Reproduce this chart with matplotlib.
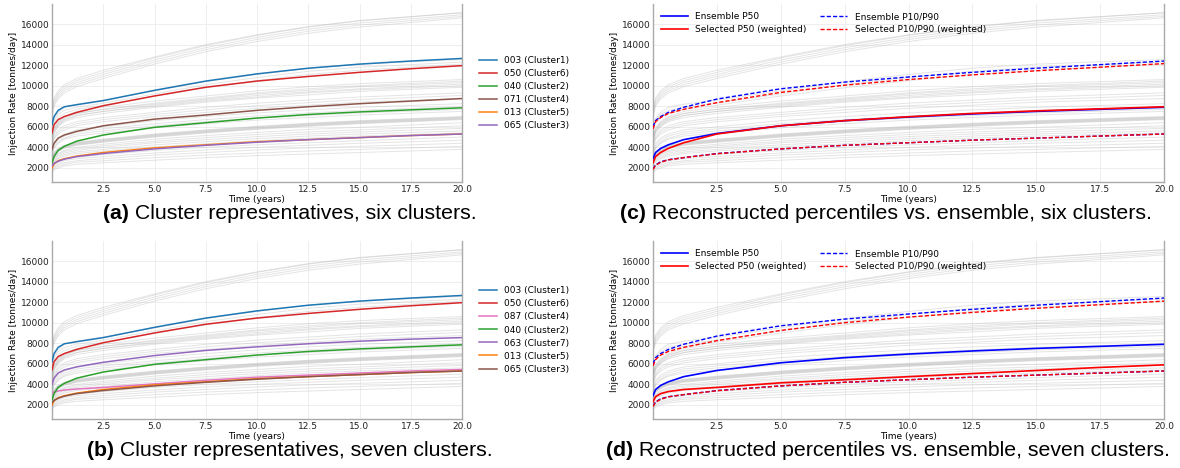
import matplotlib
matplotlib.use('Agg')
import matplotlib.pyplot as plt

# ---------------- data ----------------
T_ens = [0, 0.1, 0.3, 0.6, 1.2, 2.5, 5, 7.5, 10, 12.5, 15, 20]
ensemble = [
    [7600, 8600, 9300, 9900, 10500, 11300, 12700, 13900, 14900, 15700, 16300, 17100],
    [7400, 8400, 9100, 9700, 10300, 11100, 12500, 13700, 14700, 15500, 16100, 16900],
    [7200, 8200, 8900, 9500, 10100, 10900, 12300, 13500, 14500, 15300, 15900, 16750],
    [7800, 8800, 9500, 10100, 10700, 11500, 12800, 14000, 14950, 15750, 16350, 17100],
    [7000, 8000, 8700, 9300, 9900, 10700, 12100, 13300, 14300, 15100, 15700, 16600],
    [6000, 6800, 7400, 7900, 8200, 8600, 9500, 10400, 11100, 11700, 12100, 12550],
    [5800, 6600, 7200, 7600, 7900, 8300, 9200, 10100, 10800, 11400, 11800, 12300],
    [5600, 6400, 6900, 7300, 7700, 8100, 9000, 9800, 10500, 11100, 11500, 12100],
    [5000, 5900, 6500, 7000, 7500, 7900, 8500, 9000, 9500, 9900, 10200, 10600],
    [4800, 5700, 6300, 6800, 7300, 7700, 8300, 8800, 9300, 9700, 10000, 10450],
    [4900, 5800, 6400, 6900, 7300, 7700, 8200, 8700, 9200, 9550, 9900, 10300],
    [4600, 5500, 6100, 6600, 7100, 7500, 8100, 8600, 9050, 9400, 9700, 10150],
    [4700, 5600, 6200, 6700, 7100, 7500, 8000, 8500, 8900, 9300, 9600, 10000],
    [4500, 5400, 6000, 6500, 6900, 7300, 7900, 8400, 8800, 9100, 9450, 9850],
    [4300, 5100, 5700, 6100, 6500, 6900, 7400, 7900, 8300, 8600, 8900, 9300],
    [4100, 4900, 5500, 5900, 6300, 6700, 7200, 7650, 8050, 8350, 8650, 9050],
    [4000, 4800, 5300, 5700, 6100, 6500, 7000, 7400, 7800, 8100, 8400, 8750],
    [3600, 4400, 4900, 5300, 5700, 6000, 6600, 7000, 7350, 7650, 7900, 8250],
    [3400, 4200, 4700, 5100, 5500, 5800, 6300, 6700, 7050, 7350, 7600, 7950],
    [3300, 4000, 4500, 4900, 5300, 5600, 6100, 6500, 6850, 7100, 7350, 7700],
    [3200, 3900, 4400, 4800, 5100, 5400, 5900, 6300, 6650, 6900, 7150, 7500],
    [2900, 3500, 3900, 4200, 4500, 4800, 5300, 5700, 6050, 6350, 6600, 7000],
    [2800, 3400, 3800, 4100, 4400, 4700, 5200, 5600, 5950, 6250, 6500, 6900],
    [2900, 3500, 3850, 4150, 4450, 4750, 5250, 5650, 6000, 6300, 6550, 6950],
    [2700, 3300, 3700, 4000, 4300, 4600, 5100, 5500, 5850, 6150, 6400, 6800],
    [2750, 3350, 3750, 4050, 4350, 4650, 5150, 5550, 5900, 6200, 6450, 6850],
    [2600, 3200, 3600, 3900, 4200, 4500, 5000, 5400, 5750, 6050, 6300, 6700],
    [2650, 3250, 3650, 3950, 4250, 4550, 5050, 5450, 5800, 6100, 6350, 6750],
    [2500, 3000, 3400, 3700, 4000, 4300, 4800, 5150, 5450, 5750, 5950, 6400],
    [2400, 2900, 3300, 3600, 3850, 4150, 4600, 4950, 5250, 5500, 5700, 6100],
    [2300, 2800, 3150, 3450, 3700, 4000, 4450, 4750, 5050, 5300, 5500, 5850],
    [2200, 2700, 3000, 3300, 3550, 3800, 4250, 4550, 4850, 5100, 5300, 5600],
    [2100, 2600, 2900, 3150, 3400, 3650, 4050, 4350, 4650, 4900, 5100, 5400],
    [1900, 2300, 2600, 2850, 3050, 3300, 3700, 4000, 4250, 4450, 4650, 5000],
    [1800, 2200, 2450, 2700, 2900, 3100, 3450, 3750, 4000, 4200, 4400, 4700],
    [1700, 2050, 2300, 2500, 2700, 2900, 3250, 3500, 3750, 3950, 4100, 4400],
    [1600, 1950, 2150, 2350, 2550, 2700, 3000, 3250, 3450, 3650, 3800, 4100],
    [1500, 1800, 2000, 2200, 2350, 2500, 2750, 3000, 3200, 3350, 3500, 3800],
]

T_rep = [0, 0.1, 0.3, 0.6, 1.2, 2.5, 5, 7.5, 10, 12.5, 15, 17.5, 20]
rep_003 = [6200, 7000, 7600, 7950, 8150, 8550, 9550, 10450, 11150, 11700, 12100, 12400, 12650]
rep_050 = [5400, 6200, 6700, 7000, 7400, 8050, 9000, 9850, 10450, 10900, 11300, 11650, 11950]
rep_071 = [3800, 4400, 4900, 5200, 5550, 6100, 6750, 7150, 7600, 7950, 8250, 8500, 8750]
rep_040 = [2500, 3100, 3700, 4100, 4600, 5200, 5950, 6400, 6850, 7200, 7450, 7650, 7850]
rep_013 = [2000, 2400, 2700, 2900, 3150, 3500, 3950, 4250, 4550, 4750, 4950, 5150, 5300]
rep_065 = [2200, 2450, 2650, 2850, 3100, 3400, 3850, 4200, 4500, 4750, 4950, 5150, 5300]
rep_087 = [3200, 3250, 3350, 3450, 3550, 3700, 4050, 4400, 4700, 4900, 5100, 5300, 5450]
rep_063 = [4000, 4600, 5100, 5400, 5700, 6150, 6800, 7300, 7650, 7950, 8200, 8400, 8550]

labels_a = ["003 (Cluster1)", "050 (Cluster6)", "040 (Cluster2)", "071 (Cluster4)",
            "013 (Cluster5)", "065 (Cluster3)"]
labels_b = ["003 (Cluster1)", "050 (Cluster6)", "087 (Cluster4)", "040 (Cluster2)",
            "063 (Cluster7)", "013 (Cluster5)", "065 (Cluster3)"]

ens_p90 = [6000, 6600, 7000, 7400, 7900, 8700, 9700, 10350, 10850, 11300, 11700, 12050, 12400]
ens_p50 = [2900, 3500, 3900, 4250, 4750, 5350, 6100, 6600, 6950, 7250, 7500, 7700, 7900]
ens_p10 = [1900, 2300, 2600, 2800, 3000, 3400, 3850, 4200, 4450, 4700, 4900, 5100, 5300]
sel6_p90 = [5800, 6500, 6900, 7300, 7700, 8350, 9350, 10050, 10600, 11050, 11450, 11800, 12150]
sel6_p50 = [2500, 3100, 3500, 3900, 4450, 5300, 6100, 6600, 6980, 7300, 7550, 7750, 7950]
sel6_p10 = [1850, 2250, 2550, 2780, 3000, 3380, 3850, 4200, 4450, 4700, 4900, 5100, 5300]
sel7_p90 = [5800, 6400, 6850, 7200, 7600, 8250, 9250, 10000, 10550, 11000, 11400, 11750, 12100]
sel7_p50 = [2300, 2800, 3100, 3300, 3500, 3700, 4150, 4450, 4750, 5050, 5350, 5650, 5900]
sel7_p10 = [1850, 2250, 2550, 2780, 3000, 3380, 3850, 4200, 4450, 4700, 4900, 5100, 5300]

perc_labels = ["Ensemble P50", "Selected P50 (weighted)", "Ensemble P10/P90",
               "Selected P10/P90 (weighted)"]

captions = [
    ("(a)", " Cluster representatives, six clusters."),
    ("(b)", " Cluster representatives, seven clusters."),
    ("(c)", " Reconstructed percentiles vs. ensemble, six clusters."),
    ("(d)", " Reconstructed percentiles vs. ensemble, seven clusters."),
]

x_ticks = [2.5, 5.0, 7.5, 10.0, 12.5, 15.0, 17.5, 20.0]
y_ticks = [2000, 4000, 6000, 8000, 10000, 12000, 14000, 16000]

# ---------------- style ----------------
SMALL = 6.5
W, H = 1180, 468
fig = plt.figure(figsize=(W / 100, H / 100), dpi=100)

def px_axes(l, t, r, b):
    return fig.add_axes([l / W, 1 - b / H, (r - l) / W, (b - t) / H])

ax_a = px_axes(52, 4, 462, 182)
ax_b = px_axes(52, 241, 462, 419)
ax_c = px_axes(653, 4, 1164, 182)
ax_d = px_axes(653, 241, 1164, 419)

def style(ax):
    ax.set_xlim(0, 20)
    ax.set_ylim(630, 17950)
    ax.set_xticks(x_ticks)
    ax.set_yticks(y_ticks)
    ax.set_xticklabels([f"{v:.1f}" for v in x_ticks])
    ax.grid(True, color='#ebebeb', lw=0.6)
    ax.set_axisbelow(True)
    ax.tick_params(length=0, labelsize=SMALL, colors='#222222', pad=2)
    for s in ['left', 'bottom', 'right']:
        ax.spines[s].set_color('#aaaaaa')
        ax.spines[s].set_linewidth(1.0)
    ax.spines['top'].set_visible(False)
    ax.set_xlabel("Time (years)", fontsize=SMALL, labelpad=1)
    ax.set_ylabel("Injection Rate [tonnes/day]", fontsize=SMALL, labelpad=2)
    for curve in ensemble:
        ax.plot(T_ens, curve, color='#b4b4b4', lw=0.7, alpha=0.35, zorder=1)

for ax in (ax_a, ax_b, ax_c, ax_d):
    style(ax)

# (a)
series_a = [rep_003, rep_050, rep_040, rep_071, rep_013, rep_065]
colors_a = ['#1f77b4', '#d62728', '#2ca02c', '#8c564b', '#ff7f0e', '#9467bd']
for s, c, lab in zip(series_a, colors_a, labels_a):
    ax_a.plot(T_rep, s, color=c, lw=1.1, label=lab, zorder=3)
ax_a.legend(loc='center left', bbox_to_anchor=(1.022, 0.5), frameon=False,
            fontsize=SMALL, labelspacing=0.45, handlelength=2.0)

# (b)
series_b = [rep_003, rep_050, rep_087, rep_040, rep_063, rep_013, rep_065]
colors_b = ['#1f77b4', '#d62728', '#e377c2', '#2ca02c', '#9467bd', '#ff7f0e', '#8c564b']
for s, c, lab in zip(series_b, colors_b, labels_b):
    ax_b.plot(T_rep, s, color=c, lw=1.1, label=lab, zorder=3)
ax_b.legend(loc='center left', bbox_to_anchor=(1.022, 0.5), frameon=False,
            fontsize=SMALL, labelspacing=0.45, handlelength=2.0)

# (c), (d)
dash = (0, (3, 1.5))
for ax, sp90, sp50, sp10 in ((ax_c, sel6_p90, sel6_p50, sel6_p10),
                             (ax_d, sel7_p90, sel7_p50, sel7_p10)):
    l1, = ax.plot(T_rep, ens_p50, color='#0000ff', lw=1.2, zorder=3)
    l2, = ax.plot(T_rep, sp50, color='#ff0000', lw=1.2, zorder=4)
    l3, = ax.plot(T_rep, ens_p90, color='#0000ff', lw=1.0, ls=dash, zorder=3)
    ax.plot(T_rep, ens_p10, color='#0000ff', lw=1.0, ls=dash, zorder=3)
    l4, = ax.plot(T_rep, sp90, color='#ff0000', lw=1.0, ls=dash, zorder=4)
    ax.plot(T_rep, sp10, color='#ff0000', lw=1.0, ls=dash, zorder=4)
    ax.legend([l1, l2, l3, l4], perc_labels, loc='upper left', ncol=2,
              frameon=False, fontsize=SMALL, handlelength=3.0,
              columnspacing=1.5, labelspacing=0.4)

# captions
cap_pos = [(290, 214), (290, 451), (886, 214), (888, 451)]
renderer = fig.canvas.get_renderer()
for (bold, rest), (cx, cy) in zip(captions, cap_pos):
    t1 = fig.text(0, 1 - cy / H, bold, fontsize=15.3, fontweight='bold',
                  family='Liberation Sans', va='center', ha='left')
    t2 = fig.text(0, 1 - cy / H, rest, fontsize=15.3,
                  family='Liberation Sans', va='center', ha='left')
    w1 = t1.get_window_extent(renderer).width
    w2 = t2.get_window_extent(renderer).width
    x0 = cx - (w1 + w2) / 2
    t1.set_x(x0 / W)
    t2.set_x((x0 + w1) / W)

fig.savefig('out.png', dpi=100)
